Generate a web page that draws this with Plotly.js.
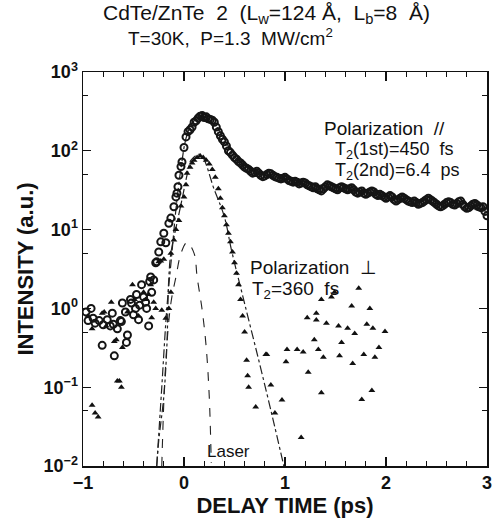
<!DOCTYPE html>
<html>
<head>
<meta charset="utf-8">
<script src="https://cdn.plot.ly/plotly-3.0.1.min.js"></script>
<style>html,body{margin:0;padding:0;background:#fff;}#chart{width:493px;height:521px;}</style>
</head>
<body>
<div id="chart"></div>
<script>
// Polarization // (open circles)
const parX = [-0.97,-0.95,-0.92,-0.9,-0.88,-0.84,-0.81,-0.8,-0.76,-0.73,-0.71,-0.7,-0.69,-0.66,-0.63,-0.62,-0.61,-0.58,-0.57,-0.56,-0.53,-0.52,-0.5,-0.48,-0.47,-0.45,-0.44,-0.42,-0.4,-0.38,-0.37,-0.35,-0.34,-0.33,-0.32,-0.3,-0.28,-0.27,-0.25,-0.23,-0.2,-0.18,-0.15,-0.13,-0.1,-0.08,-0.07,-0.06,-0.05,-0.03,-0.02,0.0,0.02,0.04,0.06,0.08,0.1,0.12,0.14,0.16,0.18,0.2,0.22,0.24,0.26,0.28,0.3,0.32,0.34,0.36,0.38,0.4,0.42,0.44,0.46,0.48,0.5,0.52,0.54,0.56,0.58,0.6,0.62,0.64,0.66,0.68,0.7,0.72,0.74,0.76,0.78,0.8,0.82,0.84,0.86,0.88,0.9,0.92,0.94,0.96,0.98,1.0,1.02,1.04,1.06,1.08,1.1,1.12,1.14,1.16,1.18,1.2,1.22,1.24,1.26,1.28,1.3,1.32,1.34,1.36,1.38,1.4,1.42,1.44,1.46,1.48,1.5,1.52,1.54,1.56,1.58,1.6,1.62,1.64,1.66,1.68,1.7,1.72,1.74,1.76,1.78,1.8,1.82,1.84,1.86,1.88,1.9,1.92,1.94,1.96,1.98,2.0,2.02,2.04,2.06,2.08,2.1,2.12,2.14,2.16,2.18,2.2,2.22,2.24,2.26,2.28,2.3,2.32,2.34,2.36,2.38,2.4,2.42,2.44,2.46,2.48,2.5,2.52,2.54,2.56,2.58,2.6,2.62,2.64,2.66,2.68,2.7,2.72,2.74,2.76,2.78,2.8,2.82,2.84,2.86,2.88,2.9,2.92,2.94,2.96,2.98,3.0];
const parY = [0.9,0.7,1.0,0.75,0.65,0.7,0.34,0.62,0.72,0.6,0.87,0.63,0.25,0.55,0.7,0.68,1.17,0.9,0.37,0.46,1.3,1.17,0.83,1.0,1.5,0.72,1.1,2.0,1.4,1.2,1.0,0.6,2.2,2.5,1.6,2.3,3.8,3.9,5.2,7,9,6.8,12,14,19.5,26,29,35,49,63,72,110,150,175,185,200,230,240,260,275,280,265,270,255,250,245,230,200,175,155,140,130,115,100,95,88,82,78,73,70,66,62,60,58,55,52,53,55,52,49,47,48,50,52,51,49,47,46,45,44,45,46,44,42,41,40,41,40,38,39,40,39,37,36,35,34,35,33,32,31,33,35,37,36,35,34,33,32,34,35,34,33,32,33,34,32,30,29,30,31,29,28,29,30,31,30,28,27,28,27,26,25,26,27,26,24,23,24,25,26,25,24,23,22.5,22,23,22,21,21.5,22,23,24,25,24,23,22,21,20,19.5,20,21,22,22.5,22,21,20.5,21.5,22.5,23,21,19.5,18.6,19,20,21,21.5,20.5,19.5,19,19.5,17,15];

// Polarization ⊥ (filled triangles)
const perX = [-0.95,-0.91,-0.91,-0.88,-0.85,-0.81,-0.79,-0.77,-0.72,-0.69,-0.67,-0.66,-0.64,-0.62,-0.61,-0.56,-0.51,-0.49,-0.45,-0.4,-0.38,-0.35,-0.33,-0.32,-0.3,-0.28,-0.25,-0.23,-0.22,-0.2,-0.18,-0.15,-0.13,-0.13,-0.1,-0.08,-0.05,-0.03,0.0,0.02,0.03,0.06,0.08,0.1,0.13,0.16,0.19,0.22,0.25,0.28,0.31,0.34,0.36,0.38,0.4,0.42,0.44,0.46,0.48,0.5,0.52,0.54,0.56,0.58,0.6,0.62,0.63,0.64,0.71,0.81,0.82,0.86,0.9,0.97,1.01,1.02,1.12,1.16,1.18,1.22,1.23,1.29,1.31,1.31,1.33,1.36,1.36,1.38,1.41,1.46,1.49,1.53,1.54,1.56,1.62,1.66,1.67,1.69,1.73,1.76,1.78,1.81,1.84,1.86,1.87,1.89,1.93,1.99];
const perY = [0.8,0.55,0.059,0.047,0.042,0.87,0.9,0.6,1.2,0.38,0.4,0.12,0.12,0.1,0.32,0.9,2.0,1.3,0.8,1.6,1.3,1.5,2.0,0.76,1.2,1.0,3.9,4,0.95,4.2,0.75,1.0,1.6,5,7.4,10,13,20,26,37,52,62,70,76,82,86,82,76,68,58,46,33,25,19,15,11.5,9,7,5.2,3.8,2.8,2.0,1.3,0.8,0.5,0.22,0.14,0.1,0.056,0.26,0.26,0.107,0.047,0.069,0.21,0.3,0.3,0.023,0.28,0.76,0.155,0.4,0.87,0.71,0.3,1.3,0.085,0.24,0.65,1.4,1.6,0.6,0.25,0.37,0.56,1.07,0.2,0.48,1.8,0.07,0.26,0.63,1.0,0.091,0.56,0.24,0.32,0.51];

// Fit curves
const fitParX = [-0.27,-0.22,-0.17,-0.12,-0.08,-0.03,0.03,0.1,0.17,0.3,0.45,0.6,0.8,1.2,2.0,3.0];
const fitParY = [0.01,0.1,1.0,5,18,60,160,240,280,220,110,65,50,40,27,17];
const fitPerX = [-0.27,-0.25,-0.2,-0.17,-0.15,-0.13,-0.07,-0.02,0.03,0.07,0.16,0.3,0.4,0.47,0.59,0.74,0.87,0.99];
const fitPerY = [0.01,0.021,0.076,0.32,2.5,5,12,24,49,76,90,32,14.5,5.5,1.3,0.22,0.045,0.0098];
const laserX = [-0.22,-0.19,-0.15,-0.12,-0.08,-0.03,0.03,0.1,0.13,0.18,0.22,0.25,0.27];
const laserY = [0.01,0.125,0.7,1.4,2.5,5.0,6.9,5.0,2.5,0.95,0.32,0.076,0.011];

const yTickVals = [0.01,0.1,1,10,100,1000];
const yTickText = ['10<sup>−2</sup>','10<sup>−1</sup>','10<sup>0</sup>','10<sup>1</sup>','10<sup>2</sup>','10<sup>3</sup>'];
const yMinorVals = [0.05,0.5,5,50,500];
const xTickVals = [-1,0,1,2,3];
const xTickText = ['−1','0','1','2','3'];

const F = 'Liberation Sans, Arial, sans-serif';
const traces = [
  {x: fitParX, y: fitParY, mode:'lines', line:{color:'#222', width:1.2, dash:'dashdot', shape:'spline'}, hoverinfo:'skip', showlegend:false},
  {x: fitPerX, y: fitPerY, mode:'lines', line:{color:'#222', width:1.2, dash:'dashdot', shape:'spline'}, hoverinfo:'skip', showlegend:false},
  {x: laserX, y: laserY, mode:'lines', line:{color:'#222', width:1.1, dash:'dash', shape:'spline'}, hoverinfo:'skip', showlegend:false},
  {x: parX, y: parY, mode:'markers', marker:{symbol:'circle-open', size:7, color:'#151515', line:{width:2, color:'#151515'}}, showlegend:false},
  {x: perX, y: perY, mode:'markers', marker:{symbol:'triangle-up', size:6, color:'#111'}, showlegend:false}
];

const ann = (x, y, text, size, xanchor) => ({xref:'paper', yref:'paper', x:x, y:y, text:text, showarrow:false, xanchor:xanchor||'left', yanchor:'middle', font:{family:F, size:size, color:'#111'}});

const layout = {
  width:493, height:521,
  margin:{l:83, r:6, t:72, b:55},
  paper_bgcolor:'#fff', plot_bgcolor:'#fff',
  xaxis:{range:[-1,3], showgrid:false, zeroline:false, showline:true, linecolor:'#111', linewidth:1.5, mirror:'ticks',
    ticks:'inside', ticklen:9, tickwidth:1.2, tickcolor:'#111', tickvals:xTickVals, ticktext:xTickText,
    minor:{dtick:0.2, ticks:'inside', ticklen:5, tickwidth:1, tickcolor:'#111'},
    tickfont:{family:F, size:18, color:'#111', weight:'bold'},
    title:{text:'<b>DELAY TIME (ps)</b>', font:{family:F, size:22, color:'#111'}, standoff:2}},
  yaxis:{type:'log', range:[-2,3], showgrid:false, zeroline:false, showline:true, linecolor:'#111', linewidth:1.5, mirror:'ticks',
    ticks:'inside', ticklen:8, tickwidth:1.2, tickcolor:'#111', tickvals:yTickVals, ticktext:yTickText,
    minor:{tickvals:yMinorVals, ticks:'inside', ticklen:5, tickwidth:1, tickcolor:'#111'},
    tickfont:{family:F, size:18, color:'#111', weight:'bold'},
    title:{text:'<b>INTENSITY (a.u.)</b>', font:{family:F, size:22, color:'#111'}, standoff:4}},
  annotations:[
    ann(0.455, 1.147, 'CdTe/ZnTe  2  (L<sub>w</sub>=124 Å,  L<sub>b</sub>=8  Å)', 21, 'center'),
    ann(0.366, 1.089, 'T=30K,  P=1.3  MW/cm<sup>2</sup>', 19, 'center'),
    ann(0.592, 0.856, 'Polarization  //', 19),
    ann(0.619, 0.802, 'T<sub>2</sub>(1st)=450  fs', 18),
    ann(0.619, 0.747, 'T<sub>2</sub>(2nd)=6.4  ps', 18),
    ann(0.408, 0.503, 'Polarization  ⊥', 19),
    ann(0.413, 0.447, 'T<sub>2</sub>=360  fs', 19),
    ann(0.302, 0.036, 'Laser', 17)
  ]
};
Plotly.newPlot('chart', traces, layout, {staticPlot:true, displayModeBar:false});
</script>
</body>
</html>
